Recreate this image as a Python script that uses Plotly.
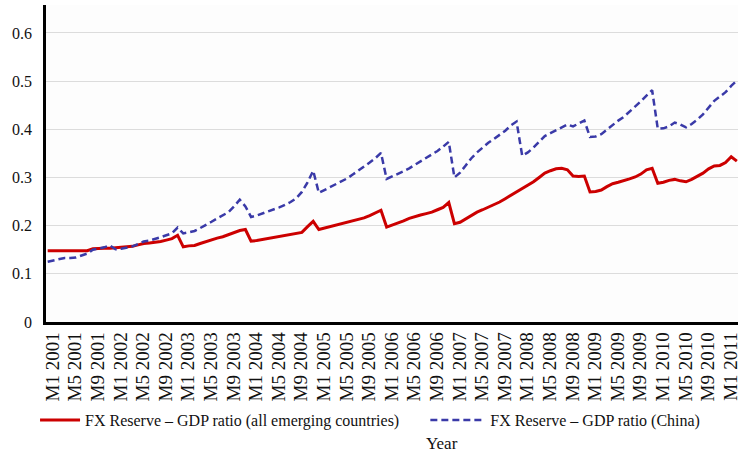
import plotly.graph_objects as go

# Monthly observations, M1 2001 .. M3 2011
months = [f"M{m} {y}" for y in range(2001, 2012) for m in range(1, 13)][:123]

emerging = [
    0.148, 0.148, 0.148, 0.148, 0.148, 0.148, 0.148, 0.148, 0.152, 0.153, 0.153, 0.153,
    0.154, 0.154, 0.155, 0.157, 0.160, 0.163, 0.164, 0.165, 0.167, 0.170, 0.173, 0.180,
    0.156, 0.158, 0.159, 0.163, 0.167, 0.171, 0.174, 0.177, 0.181, 0.186, 0.190, 0.192,
    0.168, 0.169, 0.171, 0.173, 0.175, 0.177, 0.179, 0.181, 0.183, 0.186, 0.198, 0.209,
    0.192, 0.195, 0.198, 0.201, 0.204, 0.206, 0.209, 0.212, 0.216, 0.221, 0.226, 0.232,
    0.197, 0.201, 0.206, 0.210, 0.215, 0.219, 0.222, 0.225, 0.228, 0.233, 0.238, 0.248,
    0.204, 0.207, 0.214, 0.222, 0.228, 0.233, 0.238, 0.243, 0.249, 0.256, 0.263, 0.270,
    0.276, 0.283, 0.291, 0.300, 0.309, 0.314, 0.318, 0.319, 0.316, 0.303, 0.302, 0.303,
    0.270, 0.271, 0.274, 0.281, 0.287, 0.290, 0.293, 0.297, 0.301, 0.307, 0.316, 0.319,
    0.288, 0.290, 0.294, 0.296, 0.293, 0.291, 0.296, 0.303, 0.309, 0.318, 0.324, 0.325,
    0.331, 0.343, 0.334,
]

china = [
    0.125, 0.128, 0.131, 0.133, 0.133, 0.134, 0.138, 0.142, 0.150, 0.152, 0.155, 0.159,
    0.151, 0.152, 0.154, 0.157, 0.162, 0.167, 0.169, 0.172, 0.176, 0.180, 0.184, 0.196,
    0.184, 0.186, 0.189, 0.195, 0.201, 0.208, 0.215, 0.222, 0.228, 0.240, 0.254, 0.240,
    0.218, 0.221, 0.225, 0.229, 0.234, 0.238, 0.243, 0.249, 0.257, 0.270, 0.290, 0.314,
    0.268, 0.274, 0.280, 0.286, 0.291, 0.298, 0.306, 0.314, 0.322, 0.331, 0.340, 0.351,
    0.297, 0.302, 0.307, 0.313, 0.319, 0.326, 0.333, 0.340, 0.347, 0.355, 0.364, 0.374,
    0.300, 0.310, 0.325, 0.340, 0.352, 0.363, 0.372, 0.380, 0.388, 0.397, 0.408, 0.416,
    0.345, 0.352, 0.362, 0.375, 0.386, 0.392, 0.398, 0.405, 0.410, 0.406, 0.412, 0.418,
    0.384, 0.385, 0.390, 0.400, 0.409, 0.418, 0.426, 0.436, 0.446, 0.458, 0.470, 0.481,
    0.401, 0.402, 0.406, 0.414, 0.410, 0.404, 0.411, 0.420, 0.431, 0.446, 0.459, 0.468,
    0.477, 0.490, 0.501,
]

tick_step = 4
y_ticks = [0, 0.1, 0.2, 0.3, 0.4, 0.5, 0.6]
y_tick_text = ["0", "0.1", "0.2", "0.3", "0.4", "0.5", "0.6"]

name_em = "FX Reserve \u2013 GDP ratio (all emerging countries)"
name_cn = "FX Reserve \u2013 GDP ratio (China)"

idx = list(range(len(months)))
FONT = "Liberation Serif"

W, H = 743, 454
ML, MR, MT, MB = 46, 2, 5, 132
PW = W - ML - MR
PH = H - MT - MB


def px_x(p):
    return (p - ML) / PW


def px_y(p):
    return (H - MB - p) / PH


fig = go.Figure()
fig.add_trace(go.Scatter(x=idx, y=emerging, mode="lines", name=name_em,
                         line=dict(color="#cc0000", width=3), legend="legend"))
fig.add_trace(go.Scatter(x=idx, y=china, mode="lines", name=name_cn,
                         line=dict(color="#3a3aa8", width=2.5, dash="7px,4px"),
                         legend="legend2"))

leg_common = dict(orientation="h", yanchor="middle",
                  font=dict(family=FONT, size=16, color="#111111"),
                  bgcolor="rgba(0,0,0,0)")

fig.update_layout(
    width=W, height=H,
    margin=dict(l=ML, r=MR, t=MT, b=MB),
    paper_bgcolor="white", plot_bgcolor="#fdfdfd",
    font=dict(family=FONT, color="#111111", size=16),
    showlegend=True,
    legend=dict(x=px_x(35), xanchor="left", y=px_y(420), itemwidth=40, **leg_common),
    legend2=dict(x=px_x(427), xanchor="left", y=px_y(420), itemwidth=55, **leg_common),
    annotations=[dict(text="Year", x=px_x(444), xref="paper", y=px_y(443), yref="paper",
                      showarrow=False, font=dict(family=FONT, size=17, color="#111111"),
                      xanchor="center", yanchor="middle")],
)

fig.update_xaxes(
    range=[-0.3, len(months) - 0.8],
    tickmode="array", tickvals=idx[::tick_step], ticktext=months[::tick_step],
    tickangle=-90, tickfont=dict(family=FONT, size=19, color="#111111"),
    ticklabelshift=5, ticklabeloverflow="allow",
    showgrid=False, zeroline=False,
    showline=True, linecolor="black", linewidth=2.5, ticks="",
)
fig.update_yaxes(
    range=[0, 0.658],
    tickmode="array", tickvals=y_ticks, ticktext=y_tick_text,
    tickfont=dict(family=FONT, size=16, color="#111111"),
    showgrid=True, gridcolor="#dcdcdc", gridwidth=1, zeroline=False,
    showline=True, linecolor="black", linewidth=2.5, ticks="",
    ticklabelstandoff=8,
)

fig.write_html("out.html", config={"displayModeBar": False},
               post_script="document.body.style.margin='0';")
